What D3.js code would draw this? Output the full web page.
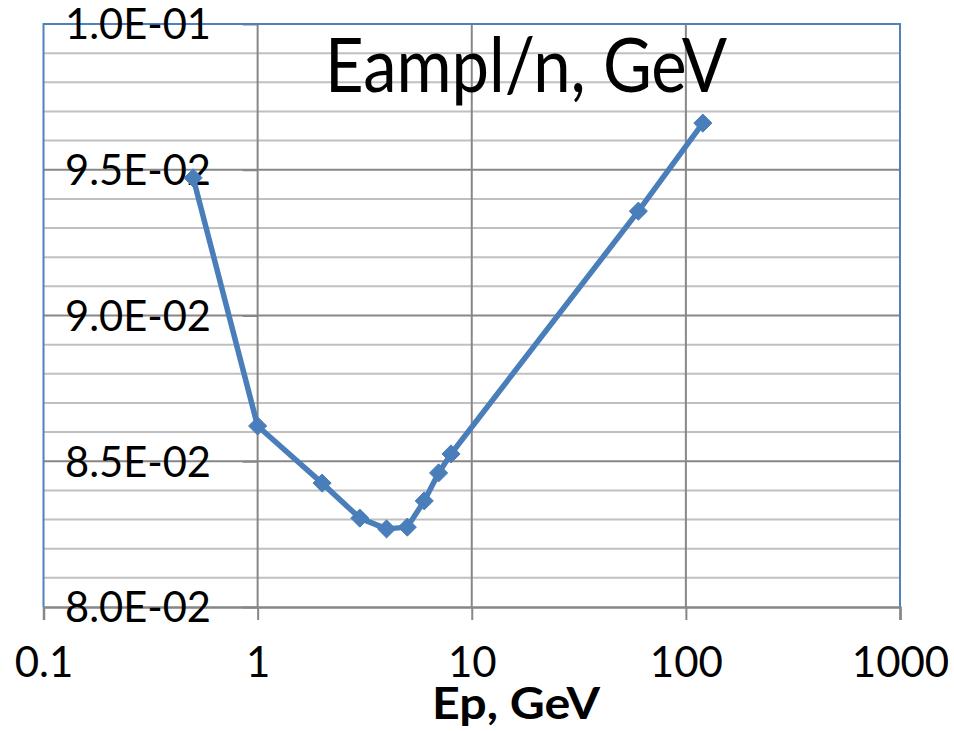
<!DOCTYPE html>
<html>
<head>
<meta charset="utf-8">
<script src="https://cdn.jsdelivr.net/npm/d3@7"></script>
<style>
  html, body { margin: 0; padding: 0; background: #fff; }
  svg text { font-family: Lato, "Open Sans", sans-serif; fill: #000; }
</style>
</head>
<body>
<div id="chart"></div>
<script>
// Datos
const energias = [0.5, 1, 2, 3, 4, 5, 6, 7, 8, 60, 120];
const eampl = [0.09472, 0.08621, 0.08425, 0.08305, 0.08268, 0.08274, 0.08364, 0.0846, 0.08525, 0.09358, 0.0966];
const xTicks = [0.1, 1, 10, 100, 1000];
const yTicks = [0.080, 0.085, 0.090, 0.095, 0.100];
const yTickLabels = ["8.0E-02", "8.5E-02", "9.0E-02", "9.5E-02", "1.0E-01"];
const yMinor = d3.range(0, 21).map(i => 0.080 + i * 0.001);

const width = 954, height = 731;
const mLeft = 43.5, mRight = 900, mTop = 24, mBottom = 607;

const svg = d3.select("#chart")
    .append("svg")
    .attr("width", width)
    .attr("height", height);

const x = d3.scaleLog().domain([0.1, 1000]).range([mLeft, mRight]);
const y = d3.scaleLinear().domain([0.08, 0.1]).range([mBottom, mTop]);

// Líneas de división menores
svg.append("g")
    .selectAll("line")
    .data(yMinor.filter((d, i) => i % 5 !== 0))
    .enter().append("line")
    .attr("x1", mLeft).attr("x2", mRight)
    .attr("y1", d => y(d)).attr("y2", d => y(d))
    .attr("stroke", "#c0c0c0")
    .attr("stroke-width", 2);

// Líneas de división principales
svg.append("g")
    .selectAll("line")
    .data(yTicks.slice(1))
    .enter().append("line")
    .attr("x1", mLeft).attr("x2", mRight)
    .attr("y1", d => y(d)).attr("y2", d => y(d))
    .attr("stroke", "#878787")
    .attr("stroke-width", 2);

// Verticales en 1, 10, 100
svg.append("g")
    .selectAll("line")
    .data([1, 10, 100])
    .enter().append("line")
    .attr("x1", d => x(d)).attr("x2", d => x(d))
    .attr("y1", mTop).attr("y2", mBottom)
    .attr("stroke", "#878787")
    .attr("stroke-width", 2);

// Eje Y (cruza en x = 1)
const yAxis = svg.append("g")
    .attr("transform", `translate(${x(1)},0)`)
    .call(d3.axisLeft(y).tickValues(yTicks).tickSize(15).tickFormat(""));
yAxis.select(".domain").remove();
yAxis.selectAll("line").attr("stroke", "#878787").attr("stroke-width", 2);

// Marco del área de trazado
svg.append("path")
    .attr("d", `M${mLeft},${mBottom} V${mTop} H${mRight} V${mBottom}`)
    .attr("fill", "none")
    .attr("stroke", "#4f81bd")
    .attr("stroke-width", 2);

// Eje X
const xAxis = svg.append("g")
    .attr("transform", `translate(0,${mBottom})`)
    .call(d3.axisBottom(x).tickValues(xTicks).tickSize(13).tickFormat(d3.format("")));
xAxis.select(".domain").attr("stroke", "#878787").attr("stroke-width", 2.5);
xAxis.selectAll("line").attr("stroke", "#878787").attr("stroke-width", 2);
xAxis.selectAll("text")
    .attr("font-size", "42px")
    .attr("y", 70)
    .attr("dy", 0)
    .attr("fill", "#000")
    .style("font-family", "Lato, sans-serif");

// Etiquetas eje Y
svg.append("g")
    .selectAll("text")
    .data(yTicks)
    .enter().append("text")
    .attr("x", 211)
    .attr("y", d => y(d))
    .attr("dy", "0.36em")
    .attr("text-anchor", "end")
    .attr("font-size", "43px")
    .attr("textLength", 146)
    .attr("lengthAdjust", "spacingAndGlyphs")
    .text((d, i) => yTickLabels[i]);

// Serie
const datos = energias.map((e, i) => ({e, v: eampl[i]}));
const linea = d3.line().x(d => x(d.e)).y(d => y(d.v));

svg.append("path")
    .datum(datos)
    .attr("d", linea)
    .attr("fill", "none")
    .attr("stroke", "#4a7ebb")
    .attr("stroke-width", 5.5)
    .attr("stroke-linejoin", "round");

svg.append("g")
    .selectAll("path")
    .data(datos)
    .enter().append("path")
    .attr("d", d3.symbol().type(d3.symbolDiamond2).size(210))
    .attr("transform", d => `translate(${x(d.e)},${y(d.v)})`)
    .attr("fill", "#4a7ebb")
    .attr("stroke", "#4a7ebb")
    .attr("stroke-width", 1);

// Título
svg.append("text")
    .attr("x", 325)
    .attr("y", 92)
    .attr("font-size", "76px")
    .attr("textLength", 402)
    .attr("lengthAdjust", "spacingAndGlyphs")
    .text("Eampl/n, GeV");

// Título eje X
svg.append("text")
    .attr("x", 432)
    .attr("y", 719)
    .attr("font-size", "44px")
    .attr("font-weight", "bold")
    .attr("textLength", 168)
    .attr("lengthAdjust", "spacingAndGlyphs")
    .text("Ep, GeV");
</script>
</body>
</html>
